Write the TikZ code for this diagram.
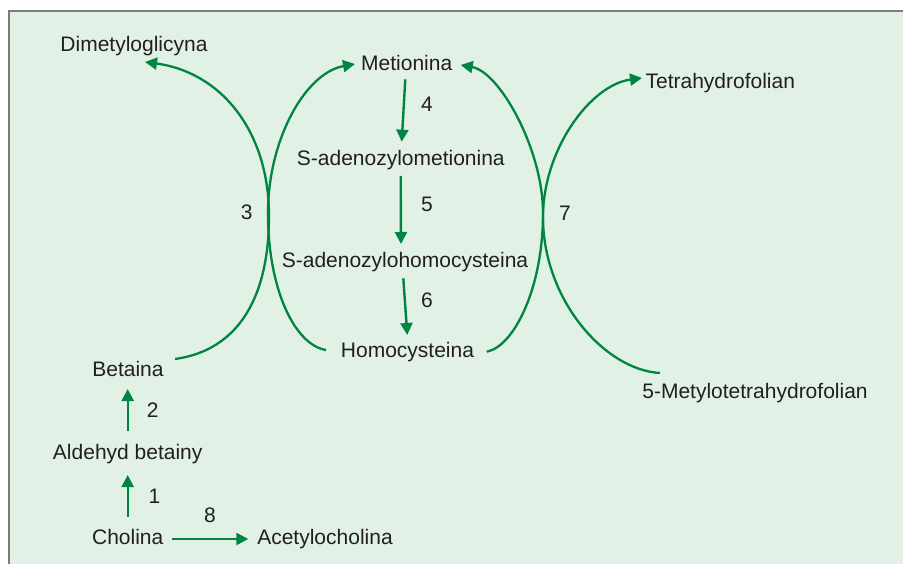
\documentclass[tikz,border=0pt]{standalone}
\usepackage{fontspec}
\setmainfont{Liberation Sans}
\usetikzlibrary{arrows.meta}
\definecolor{bggreen}{RGB}{225,241,230}
\definecolor{framegray}{RGB}{125,125,120}
\definecolor{arrgreen}{RGB}{0,133,64}
\definecolor{txt}{RGB}{35,31,32}
\tikzset{
  x=1pt,y=-1pt,
  lbl/.style={anchor=base,inner sep=0pt,outer sep=0pt,text=txt,font=\fontsize{21}{25}\selectfont},
  arr/.style={draw=arrgreen,line width=2.4pt,-{Triangle[length=12pt,width=12pt]}},
  arc/.style={draw=arrgreen,line width=2.3pt},
}
\begin{document}
\begin{tikzpicture}
\useasboundingbox (0,0) rectangle (903,564);
\fill[bggreen] (8,11) rectangle (903,564);
\draw[framegray,line width=2pt] (8.5,564) -- (8.5,11.5) -- (903,11.5);
% nodes
\node[lbl] (dmg) at (134,52) {Dimetyloglicyna};
\node[lbl] (met) at (406.7,71) {Metionina};
\node[lbl] (sam) at (400.8,166) {S-adenozylometionina};
\node[lbl] (sah) at (405,268) {S-adenozylohomocysteina};
\node[lbl] (hcy) at (407.5,357) {Homocysteina};
\node[lbl] (thf) at (720.3,88.3) {Tetrahydrofolian};
\node[lbl] (mthf) at (755,398.3) {5-Metylotetrahydrofolian};
\node[lbl] (bet) at (128,376.7) {Betaina};
\node[lbl] (ald) at (127.7,459) {Aldehyd betainy};
\node[lbl] (chol) at (127.7,544) {Cholina};
\node[lbl] (ach) at (325,544) {Acetylocholina};
% numbers
\node[lbl] (n1) at (154.5,503.3) {1};
\node[lbl] (n2) at (152.8,417.3) {2};
\node[lbl] (n3) at (246.7,220) {3};
\node[lbl] (n4) at (427,111.7) {4};
\node[lbl] (n5) at (427,211.7) {5};
\node[lbl] (n6) at (427,308) {6};
\node[lbl] (n7) at (565,220.7) {7};
\node[lbl] (n8) at (210,522.7) {8};
% straight arrows
\draw[arr] ([shift={(0,-27.3)}]chol.base) -- ([shift={(0,16)}]ald.base);
\draw[arr] ([shift={(0,-28.3)}]ald.base) -- ([shift={(-0.3,12.3)}]bet.base);
\draw[arr] ([shift={(44.6,-5)}]chol.base) -- ([shift={(-76.7,-5)}]ach.base);
\draw[arr] ([shift={(-1.4,8.3)}]met.base) -- ([shift={(0.9,-24.3)}]sam.base);
\draw[arr] ([shift={(-0.1,10)}]sam.base) -- ([shift={(-4,-24)}]sah.base);
\draw[arr] ([shift={(-1.7,10.3)}]sah.base) -- ([shift={(-0.2,-22)}]hcy.base);
% curved arrows
\draw[arc,-{Triangle[length=12pt,width=12pt]}] ([shift={(-81.5,-7)}]hcy.base)
  .. controls (295,345) and (268,290) .. (268,213)
  .. controls (268,140) and (305,73) .. ([shift={(-51.7,-7)}]met.base);
\draw[arc,-{Triangle[length=12pt,width=12pt]}] ([shift={(79.2,-5.3)}]hcy.base)
  .. controls (513,347) and (543,290) .. (543,213)
  .. controls (543,150) and (500,72) .. ([shift={(54,-6)}]met.base);
\draw[arc,-{Triangle[length=12pt,width=12pt]}] ([shift={(47,-17.7)}]bet.base)
  .. controls (240,350) and (269,295) .. (269,216)
  .. controls (269,130) and (220,72) .. ([shift={(11,10)}]dmg.base);
\draw[arc,-{Triangle[length=12pt,width=12pt]}] ([shift={(-95,-25.3)}]mthf.base)
  .. controls (605,370) and (543,300) .. (543,217)
  .. controls (543,150) and (590,85) .. ([shift={(-78.3,-10.3)}]thf.base);
\end{tikzpicture}
\end{document}
